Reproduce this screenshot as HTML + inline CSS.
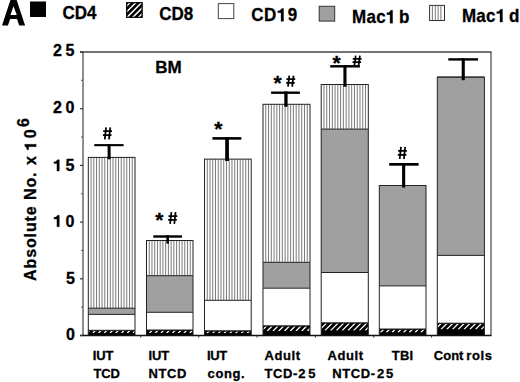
<!DOCTYPE html>
<html><head><meta charset="utf-8"><style>
html,body{margin:0;padding:0;background:#fff;}
body{width:520px;height:382px;overflow:hidden;position:relative;font-family:"Liberation Sans",sans-serif;}
svg{position:absolute;left:0;top:0;}
text{font-family:"Liberation Sans",sans-serif;font-weight:bold;fill:#000;stroke:#000;stroke-width:0.3px;}
.o1{fill:none;stroke:none;}
</style></head><body>
<svg width="520" height="382" viewBox="0 0 520 382">
<defs></defs>

<rect x="0" y="0" width="520" height="382" fill="#fff"/>
<rect x="88.3" y="157.4" width="46.7" height="150.8" fill="#fff"/>
<rect x="90.55" y="157.4" width="1.0" height="150.8" fill="#7a7a7a"/>
<rect x="93.29" y="157.4" width="1.0" height="150.8" fill="#7a7a7a"/>
<rect x="96.04" y="157.4" width="1.0" height="150.8" fill="#7a7a7a"/>
<rect x="98.79" y="157.4" width="1.0" height="150.8" fill="#7a7a7a"/>
<rect x="101.54" y="157.4" width="1.0" height="150.8" fill="#7a7a7a"/>
<rect x="104.28" y="157.4" width="1.0" height="150.8" fill="#7a7a7a"/>
<rect x="107.03" y="157.4" width="1.0" height="150.8" fill="#7a7a7a"/>
<rect x="109.78" y="157.4" width="1.0" height="150.8" fill="#7a7a7a"/>
<rect x="112.52" y="157.4" width="1.0" height="150.8" fill="#7a7a7a"/>
<rect x="115.27" y="157.4" width="1.0" height="150.8" fill="#7a7a7a"/>
<rect x="118.02" y="157.4" width="1.0" height="150.8" fill="#7a7a7a"/>
<rect x="120.76" y="157.4" width="1.0" height="150.8" fill="#7a7a7a"/>
<rect x="123.51" y="157.4" width="1.0" height="150.8" fill="#7a7a7a"/>
<rect x="126.26" y="157.4" width="1.0" height="150.8" fill="#7a7a7a"/>
<rect x="129.01" y="157.4" width="1.0" height="150.8" fill="#7a7a7a"/>
<rect x="131.75" y="157.4" width="1.0" height="150.8" fill="#7a7a7a"/>
<rect x="88.3" y="308.2" width="46.7" height="6.2" fill="#a0a0a0"/>
<rect x="88.3" y="314.4" width="46.7" height="15.9" fill="#fff"/>
<rect x="88.3" y="330.3" width="46.7" height="5.2" fill="#000"/>
<clipPath id="hc0"><rect x="88.8" y="331.1" width="45.7" height="1.9"/></clipPath>
<path d="M87.05,333.00 L89.75,330.30 M92.80,333.00 L95.50,330.30 M98.55,333.00 L101.25,330.30 M104.30,333.00 L107.00,330.30 M110.05,333.00 L112.75,330.30 M115.80,333.00 L118.50,330.30 M121.55,333.00 L124.25,330.30 M127.30,333.00 L130.00,330.30 M133.05,333.00 L135.75,330.30" stroke="#fff" stroke-width="1.3" clip-path="url(#hc0)"/>
<line x1="88.3" y1="308.2" x2="135.0" y2="308.2" stroke="#222" stroke-width="1"/>
<line x1="88.3" y1="314.4" x2="135.0" y2="314.4" stroke="#222" stroke-width="1"/>
<line x1="88.3" y1="330.3" x2="135.0" y2="330.3" stroke="#222" stroke-width="1"/>
<rect x="88.3" y="157.4" width="46.7" height="178.1" fill="none" stroke="#222" stroke-width="1"/>
<rect x="146.5" y="240.5" width="46.5" height="35.2" fill="#fff"/>
<rect x="148.74" y="240.5" width="1.0" height="35.2" fill="#7a7a7a"/>
<rect x="151.47" y="240.5" width="1.0" height="35.2" fill="#7a7a7a"/>
<rect x="154.21" y="240.5" width="1.0" height="35.2" fill="#7a7a7a"/>
<rect x="156.94" y="240.5" width="1.0" height="35.2" fill="#7a7a7a"/>
<rect x="159.68" y="240.5" width="1.0" height="35.2" fill="#7a7a7a"/>
<rect x="162.41" y="240.5" width="1.0" height="35.2" fill="#7a7a7a"/>
<rect x="165.15" y="240.5" width="1.0" height="35.2" fill="#7a7a7a"/>
<rect x="167.88" y="240.5" width="1.0" height="35.2" fill="#7a7a7a"/>
<rect x="170.62" y="240.5" width="1.0" height="35.2" fill="#7a7a7a"/>
<rect x="173.35" y="240.5" width="1.0" height="35.2" fill="#7a7a7a"/>
<rect x="176.09" y="240.5" width="1.0" height="35.2" fill="#7a7a7a"/>
<rect x="178.82" y="240.5" width="1.0" height="35.2" fill="#7a7a7a"/>
<rect x="181.56" y="240.5" width="1.0" height="35.2" fill="#7a7a7a"/>
<rect x="184.29" y="240.5" width="1.0" height="35.2" fill="#7a7a7a"/>
<rect x="187.03" y="240.5" width="1.0" height="35.2" fill="#7a7a7a"/>
<rect x="189.76" y="240.5" width="1.0" height="35.2" fill="#7a7a7a"/>
<rect x="146.5" y="275.7" width="46.5" height="36.6" fill="#a0a0a0"/>
<rect x="146.5" y="312.3" width="46.5" height="17.7" fill="#fff"/>
<rect x="146.5" y="330.0" width="46.5" height="5.5" fill="#000"/>
<clipPath id="hc1"><rect x="147.0" y="330.8" width="45.5" height="2.2"/></clipPath>
<path d="M143.75,333.00 L146.75,330.00 M149.50,333.00 L152.50,330.00 M155.25,333.00 L158.25,330.00 M161.00,333.00 L164.00,330.00 M166.75,333.00 L169.75,330.00 M172.50,333.00 L175.50,330.00 M178.25,333.00 L181.25,330.00 M184.00,333.00 L187.00,330.00 M189.75,333.00 L192.75,330.00" stroke="#fff" stroke-width="1.3" clip-path="url(#hc1)"/>
<line x1="146.5" y1="275.7" x2="193.0" y2="275.7" stroke="#222" stroke-width="1"/>
<line x1="146.5" y1="312.3" x2="193.0" y2="312.3" stroke="#222" stroke-width="1"/>
<line x1="146.5" y1="330.0" x2="193.0" y2="330.0" stroke="#222" stroke-width="1"/>
<rect x="146.5" y="240.5" width="46.5" height="95.0" fill="none" stroke="#222" stroke-width="1"/>
<rect x="204.5" y="159.1" width="46.7" height="141.2" fill="#fff"/>
<rect x="206.75" y="159.1" width="1.0" height="141.2" fill="#7a7a7a"/>
<rect x="209.49" y="159.1" width="1.0" height="141.2" fill="#7a7a7a"/>
<rect x="212.24" y="159.1" width="1.0" height="141.2" fill="#7a7a7a"/>
<rect x="214.99" y="159.1" width="1.0" height="141.2" fill="#7a7a7a"/>
<rect x="217.74" y="159.1" width="1.0" height="141.2" fill="#7a7a7a"/>
<rect x="220.48" y="159.1" width="1.0" height="141.2" fill="#7a7a7a"/>
<rect x="223.23" y="159.1" width="1.0" height="141.2" fill="#7a7a7a"/>
<rect x="225.98" y="159.1" width="1.0" height="141.2" fill="#7a7a7a"/>
<rect x="228.72" y="159.1" width="1.0" height="141.2" fill="#7a7a7a"/>
<rect x="231.47" y="159.1" width="1.0" height="141.2" fill="#7a7a7a"/>
<rect x="234.22" y="159.1" width="1.0" height="141.2" fill="#7a7a7a"/>
<rect x="236.96" y="159.1" width="1.0" height="141.2" fill="#7a7a7a"/>
<rect x="239.71" y="159.1" width="1.0" height="141.2" fill="#7a7a7a"/>
<rect x="242.46" y="159.1" width="1.0" height="141.2" fill="#7a7a7a"/>
<rect x="245.21" y="159.1" width="1.0" height="141.2" fill="#7a7a7a"/>
<rect x="247.95" y="159.1" width="1.0" height="141.2" fill="#7a7a7a"/>
<rect x="204.5" y="300.3" width="46.7" height="30.5" fill="#fff"/>
<rect x="204.5" y="330.8" width="46.7" height="4.7" fill="#000"/>
<clipPath id="hc2"><rect x="205.0" y="331.6" width="45.7" height="1.7"/></clipPath>
<path d="M201.15,333.30 L203.65,330.80 M206.90,333.30 L209.40,330.80 M212.65,333.30 L215.15,330.80 M218.40,333.30 L220.90,330.80 M224.15,333.30 L226.65,330.80 M229.90,333.30 L232.40,330.80 M235.65,333.30 L238.15,330.80 M241.40,333.30 L243.90,330.80 M247.15,333.30 L249.65,330.80 M252.90,333.30 L255.40,330.80" stroke="#fff" stroke-width="1.3" clip-path="url(#hc2)"/>
<line x1="204.5" y1="300.3" x2="251.2" y2="300.3" stroke="#222" stroke-width="1"/>
<line x1="204.5" y1="330.8" x2="251.2" y2="330.8" stroke="#222" stroke-width="1"/>
<rect x="204.5" y="159.1" width="46.7" height="176.4" fill="none" stroke="#222" stroke-width="1"/>
<rect x="263.0" y="104.3" width="47.0" height="158.0" fill="#fff"/>
<rect x="265.26" y="104.3" width="1.0" height="158.0" fill="#7a7a7a"/>
<rect x="268.03" y="104.3" width="1.0" height="158.0" fill="#7a7a7a"/>
<rect x="270.79" y="104.3" width="1.0" height="158.0" fill="#7a7a7a"/>
<rect x="273.56" y="104.3" width="1.0" height="158.0" fill="#7a7a7a"/>
<rect x="276.32" y="104.3" width="1.0" height="158.0" fill="#7a7a7a"/>
<rect x="279.09" y="104.3" width="1.0" height="158.0" fill="#7a7a7a"/>
<rect x="281.85" y="104.3" width="1.0" height="158.0" fill="#7a7a7a"/>
<rect x="284.62" y="104.3" width="1.0" height="158.0" fill="#7a7a7a"/>
<rect x="287.38" y="104.3" width="1.0" height="158.0" fill="#7a7a7a"/>
<rect x="290.15" y="104.3" width="1.0" height="158.0" fill="#7a7a7a"/>
<rect x="292.91" y="104.3" width="1.0" height="158.0" fill="#7a7a7a"/>
<rect x="295.68" y="104.3" width="1.0" height="158.0" fill="#7a7a7a"/>
<rect x="298.44" y="104.3" width="1.0" height="158.0" fill="#7a7a7a"/>
<rect x="301.21" y="104.3" width="1.0" height="158.0" fill="#7a7a7a"/>
<rect x="303.97" y="104.3" width="1.0" height="158.0" fill="#7a7a7a"/>
<rect x="306.74" y="104.3" width="1.0" height="158.0" fill="#7a7a7a"/>
<rect x="263.0" y="262.3" width="47.0" height="25.9" fill="#a0a0a0"/>
<rect x="263.0" y="288.2" width="47.0" height="37.6" fill="#fff"/>
<rect x="263.0" y="325.8" width="47.0" height="9.7" fill="#000"/>
<clipPath id="hc3"><rect x="263.5" y="326.6" width="46.0" height="4.4"/></clipPath>
<path d="M261.50,331.00 L266.70,325.80 M267.25,331.00 L272.45,325.80 M273.00,331.00 L278.20,325.80 M278.75,331.00 L283.95,325.80 M284.50,331.00 L289.70,325.80 M290.25,331.00 L295.45,325.80 M296.00,331.00 L301.20,325.80 M301.75,331.00 L306.95,325.80 M307.50,331.00 L312.70,325.80" stroke="#fff" stroke-width="1.3" clip-path="url(#hc3)"/>
<line x1="263.0" y1="262.3" x2="310.0" y2="262.3" stroke="#222" stroke-width="1"/>
<line x1="263.0" y1="288.2" x2="310.0" y2="288.2" stroke="#222" stroke-width="1"/>
<line x1="263.0" y1="325.8" x2="310.0" y2="325.8" stroke="#222" stroke-width="1"/>
<rect x="263.0" y="104.3" width="47.0" height="231.2" fill="none" stroke="#222" stroke-width="1"/>
<rect x="321.2" y="84.5" width="47.1" height="44.6" fill="#fff"/>
<rect x="323.47" y="84.5" width="1.0" height="44.6" fill="#7a7a7a"/>
<rect x="326.24" y="84.5" width="1.0" height="44.6" fill="#7a7a7a"/>
<rect x="329.01" y="84.5" width="1.0" height="44.6" fill="#7a7a7a"/>
<rect x="331.78" y="84.5" width="1.0" height="44.6" fill="#7a7a7a"/>
<rect x="334.55" y="84.5" width="1.0" height="44.6" fill="#7a7a7a"/>
<rect x="337.32" y="84.5" width="1.0" height="44.6" fill="#7a7a7a"/>
<rect x="340.09" y="84.5" width="1.0" height="44.6" fill="#7a7a7a"/>
<rect x="342.86" y="84.5" width="1.0" height="44.6" fill="#7a7a7a"/>
<rect x="345.64" y="84.5" width="1.0" height="44.6" fill="#7a7a7a"/>
<rect x="348.41" y="84.5" width="1.0" height="44.6" fill="#7a7a7a"/>
<rect x="351.18" y="84.5" width="1.0" height="44.6" fill="#7a7a7a"/>
<rect x="353.95" y="84.5" width="1.0" height="44.6" fill="#7a7a7a"/>
<rect x="356.72" y="84.5" width="1.0" height="44.6" fill="#7a7a7a"/>
<rect x="359.49" y="84.5" width="1.0" height="44.6" fill="#7a7a7a"/>
<rect x="362.26" y="84.5" width="1.0" height="44.6" fill="#7a7a7a"/>
<rect x="365.03" y="84.5" width="1.0" height="44.6" fill="#7a7a7a"/>
<rect x="321.2" y="129.1" width="47.1" height="143.4" fill="#a0a0a0"/>
<rect x="321.2" y="272.5" width="47.1" height="50.3" fill="#fff"/>
<rect x="321.2" y="322.8" width="47.1" height="12.7" fill="#000"/>
<clipPath id="hc4"><rect x="321.7" y="323.6" width="46.1" height="7.0"/></clipPath>
<path d="M313.30,330.60 L321.10,322.80 M319.05,330.60 L326.85,322.80 M324.80,330.60 L332.60,322.80 M330.55,330.60 L338.35,322.80 M336.30,330.60 L344.10,322.80 M342.05,330.60 L349.85,322.80 M347.80,330.60 L355.60,322.80 M353.55,330.60 L361.35,322.80 M359.30,330.60 L367.10,322.80 M365.05,330.60 L372.85,322.80" stroke="#fff" stroke-width="1.3" clip-path="url(#hc4)"/>
<line x1="321.2" y1="129.1" x2="368.3" y2="129.1" stroke="#222" stroke-width="1"/>
<line x1="321.2" y1="272.5" x2="368.3" y2="272.5" stroke="#222" stroke-width="1"/>
<line x1="321.2" y1="322.8" x2="368.3" y2="322.8" stroke="#222" stroke-width="1"/>
<rect x="321.2" y="84.5" width="47.1" height="251.0" fill="none" stroke="#222" stroke-width="1"/>
<rect x="379.3" y="185.5" width="46.7" height="100.4" fill="#a0a0a0"/>
<rect x="379.3" y="285.9" width="46.7" height="43.1" fill="#fff"/>
<rect x="379.3" y="329.0" width="46.7" height="6.5" fill="#000"/>
<clipPath id="hc5"><rect x="379.8" y="329.8" width="45.7" height="2.7"/></clipPath>
<path d="M374.75,332.50 L378.25,329.00 M380.50,332.50 L384.00,329.00 M386.25,332.50 L389.75,329.00 M392.00,332.50 L395.50,329.00 M397.75,332.50 L401.25,329.00 M403.50,332.50 L407.00,329.00 M409.25,332.50 L412.75,329.00 M415.00,332.50 L418.50,329.00 M420.75,332.50 L424.25,329.00 M426.50,332.50 L430.00,329.00" stroke="#fff" stroke-width="1.3" clip-path="url(#hc5)"/>
<line x1="379.3" y1="185.5" x2="426.0" y2="185.5" stroke="#222" stroke-width="1"/>
<line x1="379.3" y1="285.9" x2="426.0" y2="285.9" stroke="#222" stroke-width="1"/>
<line x1="379.3" y1="329.0" x2="426.0" y2="329.0" stroke="#222" stroke-width="1"/>
<rect x="379.3" y="185.5" width="46.7" height="150.0" fill="none" stroke="#222" stroke-width="1"/>
<rect x="437.3" y="77.1" width="47.1" height="178.3" fill="#a0a0a0"/>
<rect x="437.3" y="255.4" width="47.1" height="67.8" fill="#fff"/>
<rect x="437.3" y="323.2" width="47.1" height="12.3" fill="#000"/>
<clipPath id="hc6"><rect x="437.8" y="324.0" width="46.1" height="5.4"/></clipPath>
<path d="M429.50,329.40 L435.70,323.20 M435.25,329.40 L441.45,323.20 M441.00,329.40 L447.20,323.20 M446.75,329.40 L452.95,323.20 M452.50,329.40 L458.70,323.20 M458.25,329.40 L464.45,323.20 M464.00,329.40 L470.20,323.20 M469.75,329.40 L475.95,323.20 M475.50,329.40 L481.70,323.20 M481.25,329.40 L487.45,323.20" stroke="#fff" stroke-width="1.3" clip-path="url(#hc6)"/>
<line x1="437.3" y1="77.1" x2="484.4" y2="77.1" stroke="#222" stroke-width="1"/>
<line x1="437.3" y1="255.4" x2="484.4" y2="255.4" stroke="#222" stroke-width="1"/>
<line x1="437.3" y1="323.2" x2="484.4" y2="323.2" stroke="#222" stroke-width="1"/>
<rect x="437.3" y="77.1" width="47.1" height="258.4" fill="none" stroke="#222" stroke-width="1"/>
<line x1="80" y1="52.0" x2="491.5" y2="52.0" stroke="#444" stroke-width="1.3"/>
<line x1="83.0" y1="52.0" x2="83.0" y2="335.5" stroke="#444" stroke-width="1.2"/>
<line x1="491.0" y1="52.0" x2="491.0" y2="335.5" stroke="#444" stroke-width="1.2"/>
<line x1="80" y1="335.5" x2="491.5" y2="335.5" stroke="#111" stroke-width="1.4"/>
<line x1="80" y1="335.5" x2="83.0" y2="335.5" stroke="#333" stroke-width="1.2"/>
<line x1="81" y1="307.1" x2="83.0" y2="307.1" stroke="#555" stroke-width="1"/>
<line x1="80" y1="278.8" x2="83.0" y2="278.8" stroke="#333" stroke-width="1.2"/>
<line x1="81" y1="250.4" x2="83.0" y2="250.4" stroke="#555" stroke-width="1"/>
<line x1="80" y1="222.1" x2="83.0" y2="222.1" stroke="#333" stroke-width="1.2"/>
<line x1="81" y1="193.8" x2="83.0" y2="193.8" stroke="#555" stroke-width="1"/>
<line x1="80" y1="165.4" x2="83.0" y2="165.4" stroke="#333" stroke-width="1.2"/>
<line x1="81" y1="137.1" x2="83.0" y2="137.1" stroke="#555" stroke-width="1"/>
<line x1="80" y1="108.7" x2="83.0" y2="108.7" stroke="#333" stroke-width="1.2"/>
<line x1="81" y1="80.3" x2="83.0" y2="80.3" stroke="#555" stroke-width="1"/>
<line x1="80" y1="52.0" x2="83.0" y2="52.0" stroke="#333" stroke-width="1.2"/>
<line x1="140.8" y1="335.5" x2="140.8" y2="337.7" stroke="#333" stroke-width="1"/>
<line x1="198.8" y1="335.5" x2="198.8" y2="337.7" stroke="#333" stroke-width="1"/>
<line x1="257.1" y1="335.5" x2="257.1" y2="337.7" stroke="#333" stroke-width="1"/>
<line x1="315.4" y1="335.5" x2="315.4" y2="337.7" stroke="#333" stroke-width="1"/>
<line x1="373.8" y1="335.5" x2="373.8" y2="337.7" stroke="#333" stroke-width="1"/>
<line x1="431.6" y1="335.5" x2="431.6" y2="337.7" stroke="#333" stroke-width="1"/>
<rect x="94.3" y="144.1" width="29.3" height="2.1" fill="#000"/>
<rect x="107.6" y="144.1" width="3.0" height="15.2" fill="#000"/>
<rect x="153.3" y="235.3" width="28.7" height="2.4" fill="#000"/>
<rect x="166.4" y="235.3" width="2.6" height="8.3" fill="#000"/>
<rect x="212.4" y="137.1" width="29.0" height="2.6" fill="#000"/>
<rect x="225.2" y="137.1" width="3.7" height="23.9" fill="#000"/>
<rect x="271.1" y="91.5" width="28.8" height="2.4" fill="#000"/>
<rect x="284.3" y="91.5" width="3.3" height="15.2" fill="#000"/>
<rect x="330.2" y="65.1" width="29.7" height="2.4" fill="#000"/>
<rect x="343.4" y="65.1" width="3.1" height="21.6" fill="#000"/>
<rect x="389.2" y="163.0" width="29.4" height="2.7" fill="#000"/>
<rect x="402.1" y="163.0" width="3.1" height="24.5" fill="#000"/>
<rect x="448.3" y="58.2" width="29.7" height="2.4" fill="#000"/>
<rect x="461.7" y="58.2" width="3.1" height="22.0" fill="#000"/>
<text x="53.0" y="56.1" font-size="16" letter-spacing="3.5">25</text>
<text x="53.0" y="113.4" font-size="16" letter-spacing="3.5">20</text>
<text x="53.0" y="171.1" font-size="16" letter-spacing="3.5"><tspan class="o1">1</tspan>5</text>
<text x="53.0" y="226.7" font-size="16" letter-spacing="3.5"><tspan class="o1">1</tspan>0</text>
<text x="66.0" y="283.6" font-size="16">5</text>
<text x="66.0" y="340.2" font-size="16">0</text>
<path d="M106.10,127.30 L104.80,139.30 M110.30,127.30 L109.00,139.30 M103.20,131.20 L112.00,131.20 M102.90,135.10 L111.50,135.10" stroke="#000" stroke-width="1.75" fill="none"/>
<text x="155.2" y="227.3" font-size="21">*</text>
<path d="M171.40,212.20 L170.10,223.90 M175.60,212.20 L174.30,223.90 M168.50,216.00 L177.30,216.00 M168.20,219.81 L176.80,219.81" stroke="#000" stroke-width="1.75" fill="none"/>
<text x="214.3" y="135.9" font-size="21">*</text>
<text x="273.4" y="90.1" font-size="21">*</text>
<path d="M289.30,75.60 L288.00,86.60 M293.50,75.60 L292.20,86.60 M286.40,79.17 L295.20,79.17 M286.10,82.75 L294.70,82.75" stroke="#000" stroke-width="1.75" fill="none"/>
<text x="332.5" y="70.1" font-size="21">*</text>
<path d="M355.70,55.60 L354.40,65.70 M359.90,55.60 L358.60,65.70 M352.80,58.88 L361.60,58.88 M352.50,62.16 L361.10,62.16" stroke="#000" stroke-width="1.75" fill="none"/>
<path d="M401.00,146.90 L399.70,159.00 M405.20,146.90 L403.90,159.00 M398.10,150.83 L406.90,150.83 M397.80,154.77 L406.40,154.77" stroke="#000" stroke-width="1.75" fill="none"/>
<text x="155.2" y="73.2" font-size="17">BM</text>
<text transform="translate(92.8,360.0) scale(0.964,1)" font-size="13.5" letter-spacing="-0.1">IUT</text>
<text transform="translate(93.6,377.8) scale(0.964,1)" font-size="13.5" letter-spacing="-0.2">TCD</text>
<text transform="translate(148.5,360.0) scale(0.964,1)" font-size="13.5" letter-spacing="-0.1">IUT</text>
<text transform="translate(148.6,377.8) scale(0.964,1)" font-size="13.5" letter-spacing="0.6">NTCD</text>
<text transform="translate(207.0,360.0) scale(0.964,1)" font-size="13.5" letter-spacing="-0.4">IUT</text>
<text transform="translate(207.6,377.8) scale(0.964,1)" font-size="13.5" letter-spacing="0.6">cong.</text>
<text transform="translate(264.6,360.0) scale(0.964,1)" font-size="13.5" letter-spacing="0.6">Adult</text>
<text transform="translate(264.5,377.8) scale(0.964,1)" font-size="13.5" letter-spacing="0.6">TCD-<tspan dx="0.5">2</tspan><tspan dx="2.2">5</tspan></text>
<text transform="translate(327.6,360.0) scale(0.964,1)" font-size="13.5" letter-spacing="0.6">Adult</text>
<text transform="translate(332.2,377.8) scale(0.964,1)" font-size="13.5" letter-spacing="0.6">NTCD-<tspan dx="1.5">2</tspan><tspan dx="1.2">5</tspan></text>
<text transform="translate(391.8,360.0) scale(0.964,1)" font-size="13.5" letter-spacing="0.2">TBI</text>
<text transform="translate(433.8,360.0) scale(0.964,1)" font-size="13.5" letter-spacing="0">Con<tspan dx="0">t</tspan><tspan dx="3.0" letter-spacing="0.6">rols</tspan></text>
<text transform="translate(36.2,281.0) rotate(-90)" font-size="16" letter-spacing="0.9">Absolute No. <tspan dx="1.15">x</tspan> <tspan dx="-0.75" class="o1">1</tspan><tspan dx="2.6">0</tspan><tspan dy="-7.6" dx="1.3">6</tspan></text>
<path d="M2,25.5 L10.6,-0.5 L16.5,-0.5 L25.1,25.5 L19.2,25.5 L17.0,18.9 L10.1,18.9 L7.9,25.5 Z M10.4,14.9 L16.8,14.9 L13.5,6.3 Z" fill="#000" fill-rule="evenodd"/>
<rect x="30" y="1.5" width="16" height="15.5" fill="#000"/>
<text transform="translate(62.5,18.6) scale(0.944,1)" font-size="18">CD4</text>
<rect x="126.5" y="2.5" width="15.8" height="15" fill="#000" stroke="#111" stroke-width="1"/>
<clipPath id="hcl"><rect x="127.3" y="3.3" width="14.2" height="13.4"/></clipPath>
<path d="M108.90,18 L124.90,2 M114.70,18 L130.70,2 M120.50,18 L136.50,2 M126.30,18 L142.30,2 M132.10,18 L148.10,2 M137.90,18 L153.90,2 M143.70,18 L159.70,2 M149.50,18 L165.50,2" stroke="#fff" stroke-width="1.5" clip-path="url(#hcl)"/>
<text transform="translate(159.3,19.8) scale(0.944,1)" font-size="18">CD8</text>
<rect x="218.3" y="3.6" width="15.5" height="15" fill="#fff" stroke="#444" stroke-width="1"/>
<text transform="translate(251.2,21.3) scale(0.944,1)" font-size="18" letter-spacing="0.6">CD<tspan class="o1">1</tspan><tspan dx="1">9</tspan></text>
<rect x="319.2" y="6.3" width="15.5" height="14.8" fill="#a0a0a0" stroke="#333" stroke-width="1"/>
<text transform="translate(352,23.2) scale(0.944,1)" font-size="18" letter-spacing="0.3">Mac<tspan class="o1">1</tspan><tspan dx="3.5">b</tspan></text>
<rect x="429.6" y="5.4" width="14.9" height="15.1" fill="#fff" stroke="#333" stroke-width="1"/>
<rect x="431.9" y="5.9" width="1" height="14.1" fill="#7a7a7a"/>
<rect x="434.8" y="5.9" width="1" height="14.1" fill="#7a7a7a"/>
<rect x="437.6" y="5.9" width="1" height="14.1" fill="#7a7a7a"/>
<rect x="440.4" y="5.9" width="1" height="14.1" fill="#7a7a7a"/>
<text transform="translate(461.9,22.1) scale(0.944,1)" font-size="18" letter-spacing="0.3">Mac<tspan class="o1">1</tspan><tspan dx="3.8">d</tspan></text>
<path transform="matrix(1.0000,0.0000,0.0000,1.0000,0.000,0.000)" d="M56.92,171.10 L59.32,171.10 L59.32,159.66 L57.48,159.66 L56.92,160.62 L55.72,161.50 L53.88,161.90 L53.88,163.50 L56.92,163.50 Z" fill="#000" stroke="#000" stroke-width="0.3"/>
<path transform="matrix(1.0000,0.0000,0.0000,1.0000,0.000,0.000)" d="M56.92,226.70 L59.32,226.70 L59.32,215.26 L57.48,215.26 L56.92,216.22 L55.72,217.10 L53.88,217.50 L53.88,219.10 L56.92,219.10 Z" fill="#000" stroke="#000" stroke-width="0.3"/>
<path transform="matrix(0.0000,-1.0000,1.0000,0.0000,36.200,281.000)" d="M134.30,0.00 L136.70,0.00 L136.70,-11.44 L134.86,-11.44 L134.30,-10.48 L133.10,-9.60 L131.26,-9.20 L131.26,-7.60 L134.30,-7.60 Z" fill="#000" stroke="#000" stroke-width="0.3"/>
<path transform="matrix(0.9440,0.0000,0.0000,1.0000,251.200,21.300)" d="M31.61,0.00 L34.31,0.00 L34.31,-12.87 L32.24,-12.87 L31.61,-11.79 L30.26,-10.80 L28.19,-10.35 L28.19,-8.55 L31.61,-8.55 Z" fill="#000" stroke="#000" stroke-width="0.3"/>
<path transform="matrix(0.9440,0.0000,0.0000,1.0000,352.000,23.200)" d="M40.32,0.00 L43.02,0.00 L43.02,-12.87 L40.95,-12.87 L40.32,-11.79 L38.97,-10.80 L36.90,-10.35 L36.90,-8.55 L40.32,-8.55 Z" fill="#000" stroke="#000" stroke-width="0.3"/>
<path transform="matrix(0.9440,0.0000,0.0000,1.0000,461.900,22.100)" d="M40.32,0.00 L43.02,0.00 L43.02,-12.87 L40.95,-12.87 L40.32,-11.79 L38.97,-10.80 L36.90,-10.35 L36.90,-8.55 L40.32,-8.55 Z" fill="#000" stroke="#000" stroke-width="0.3"/>
</svg></body></html>
